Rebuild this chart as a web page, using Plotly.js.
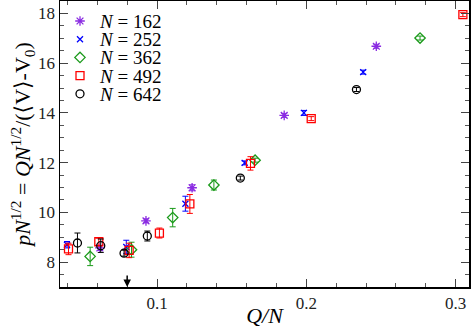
<!DOCTYPE html>
<html>
<head>
<meta charset="utf-8">
<script src="https://cdn.plot.ly/plotly-3.0.1.min.js"></script>
<style>
  html, body { margin: 0; padding: 0; background: #fff; }
  #plot { width: 471px; height: 328px; }
</style>
</head>
<body>
<div id="plot"></div>
<script>
// Q/N, pressure and error per system size
const labels = ['162', '252', '362', '492', '642'];

const x162 = [0.0617, 0.0926, 0.1235, 0.1852, 0.2469];
const y162 = [8.57, 9.66, 10.99, 13.90, 16.68];
const e162 = [0.10, 0.08, 0.12, 0.08, 0.08];

const x252 = [0.0397, 0.0794, 0.1190, 0.1587, 0.1984, 0.2381];
const y252 = [8.70, 8.61, 10.35, 11.99, 14.00, 15.64];
const e252 = [0.13, 0.27, 0.30, 0.08, 0.10, 0.08];

const x362 = [0.0552, 0.0829, 0.1105, 0.1381, 0.1657, 0.2762];
const y362 = [8.23, 8.50, 9.79, 11.10, 12.10, 17.01];
const e362 = [0.37, 0.30, 0.37, 0.20, 0.08, 0.08];

const x492 = [0.0407, 0.0610, 0.0813, 0.1016, 0.1220, 0.1626, 0.2033, 0.3049];
const y492 = [8.53, 8.82, 8.47, 9.17, 10.34, 11.97, 13.77, 17.95];
const e492 = [0.23, 0.15, 0.29, 0.20, 0.38, 0.27, 0.08, 0.08];

const x642 = [0.0467, 0.0623, 0.0779, 0.0935, 0.1558, 0.2336];
const y642 = [8.77, 8.66, 8.36, 9.05, 11.38, 14.94];
const e642 = [0.40, 0.27, 0.12, 0.20, 0.08, 0.08];

const serif = '"Liberation Serif", "DejaVu Serif", serif';

const styles = [
    { color: '#8a2be2', symbol: 'asterisk-open', size: 8 },
    { color: '#0000ff', symbol: 'x-thin-open', size: 6 },
    { color: '#1a9a1a', symbol: 'diamond-open', size: 8 },
    { color: '#ff0000', symbol: 'square-open', size: 8 },
    { color: '#000000', symbol: 'circle-open', size: 8 }
];

function series(x, y, err, st) {
    return {
        x: x, y: y, type: 'scatter', mode: 'markers', showlegend: false,
        marker: { symbol: st.symbol, size: st.size, color: st.color, line: { width: 1.3, color: st.color } },
        error_y: { type: 'data', array: err, visible: true, color: st.color, thickness: 1, width: 3 }
    };
}

const traces = [
    series(x162, y162, e162, styles[0]),
    series(x252, y252, e252, styles[1]),
    series(x362, y362, e362, styles[2]),
    series(x492, y492, e492, styles[3]),
    series(x642, y642, e642, styles[4])
];

// compact legend drawn on a pixel-scaled overlay axis (Plotly's legend rows are too tall)
const legX = 20, legTop = 20, legStep = 18.2;
const annotations = [];
styles.forEach((st, i) => {
    traces.push({
        x: [legX], y: [legTop + i * legStep], xaxis: 'x2', yaxis: 'y2',
        type: 'scatter', mode: 'markers', showlegend: false,
        marker: { symbol: st.symbol, size: st.size, color: st.color, line: { width: 1.3, color: st.color } }
    });
    annotations.push({
        x: legX + 17, y: legTop + i * legStep, xref: 'x2', yref: 'y2',
        xanchor: 'left', yanchor: 'middle', showarrow: false,
        height: 18, valign: 'middle',
        text: `<i>N</i> = ${labels[i]}`, font: { family: serif, size: 19, color: '#000' }
    });
});

annotations.push({
    x: 0.08, y: 7, xref: 'x', yref: 'y', text: '',
    showarrow: true, arrowhead: 2, arrowsize: 1, arrowwidth: 1.5, arrowcolor: '#000',
    ax: 0, ay: -13
});

const layout = {
    width: 471, height: 328,
    paper_bgcolor: '#fff', plot_bgcolor: '#fff',
    margin: { l: 60, r: 2, t: 1, b: 41 },
    font: { family: serif, color: '#000' },
    showlegend: false,
    xaxis: {
        range: [0.035, 0.309],
        title: { text: '<i>Q/N</i>', font: { family: serif, size: 22 } },
        tickvals: [0.1, 0.2, 0.3], ticktext: ['0.1', '0.2', '0.3'],
        ticks: 'inside', ticklen: 8, tickcolor: '#444', tickfont: { family: serif, size: 17, color: '#222' },
        minor: { dtick: 0.02, tick0: 0, ticks: 'inside', ticklen: 4, tickcolor: '#555' },
        showline: true, linecolor: '#000', linewidth: 1.5, mirror: 'ticks',
        showgrid: false, zeroline: false
    },
    yaxis: {
        range: [7, 18.5],
        automargin: true,
        title: {
            text: '<i>pN</i><sup>1/2</sup> = <i>QN</i><sup>1/2</sup>/(⟨V⟩-V<sub>0</sub>)',
            font: { family: serif, size: 22 }, standoff: 1
        },
        dtick: 2, tick0: 0,
        ticks: 'inside', ticklen: 8, tickcolor: '#444', tickfont: { family: serif, size: 17, color: '#222' },
        minor: { dtick: 0.5, ticks: 'inside', ticklen: 4, tickcolor: '#555' },
        showline: true, linecolor: '#000', linewidth: 1.5, mirror: 'ticks',
        showgrid: false, zeroline: false
    },
    xaxis2: { overlaying: 'x', range: [0, 409], visible: false, fixedrange: true },
    yaxis2: { overlaying: 'y', range: [286, 0], visible: false, fixedrange: true },
    annotations: annotations
};

Plotly.newPlot('plot', traces, layout, { displayModeBar: false, staticPlot: true });
</script>
</body>
</html>
